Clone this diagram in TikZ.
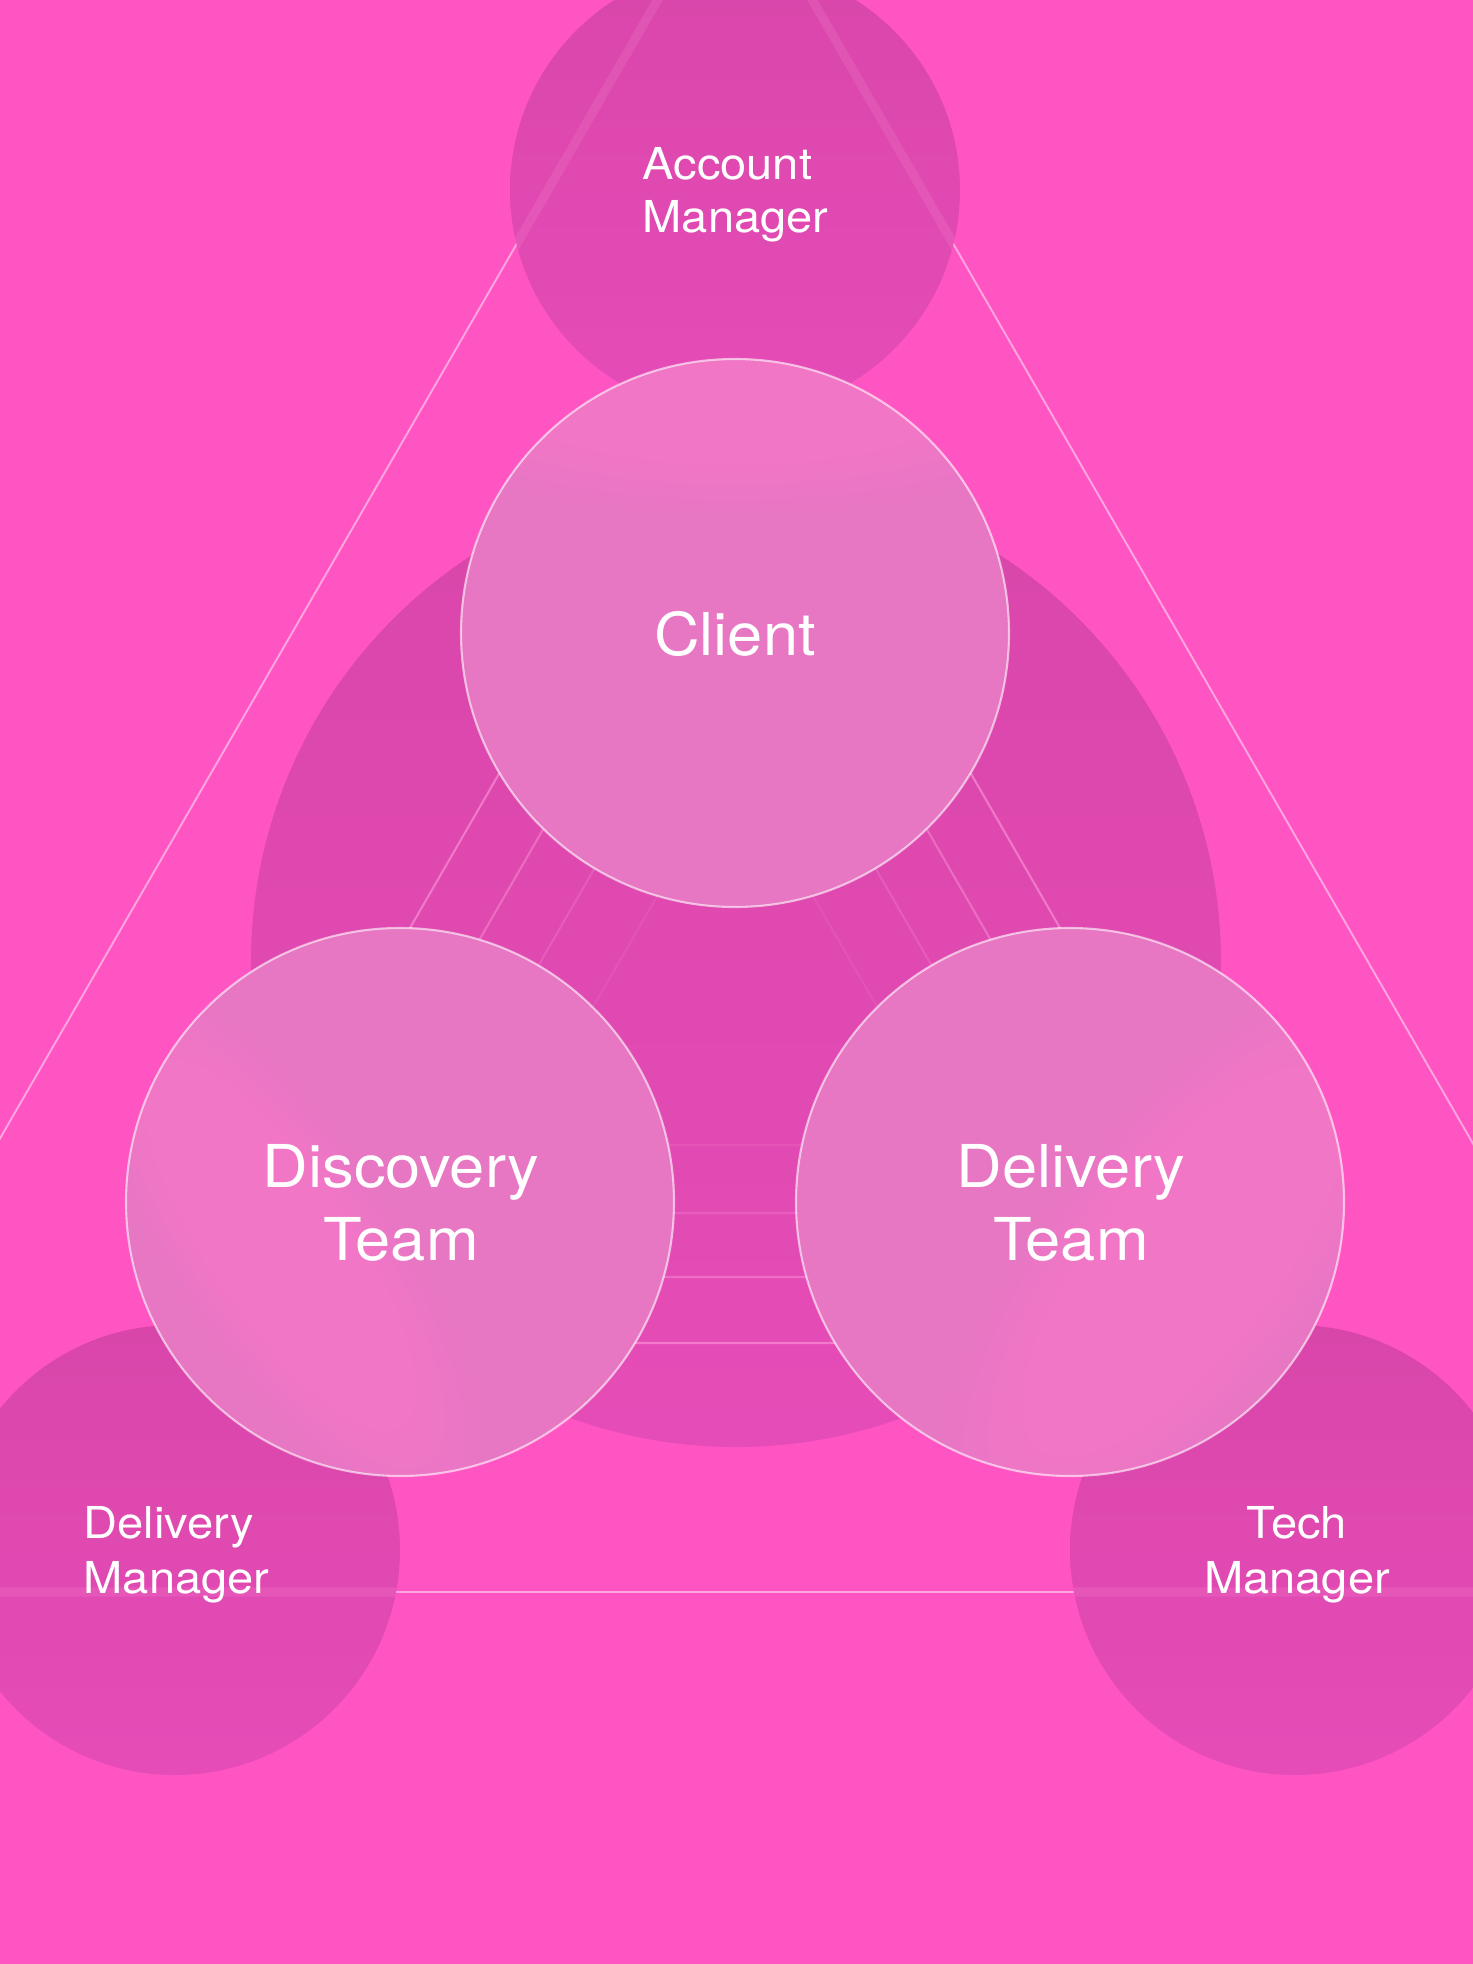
\documentclass[tikz,border=0pt]{standalone}
\usepackage{fontspec}
\setmainfont{TeX Gyre Heros}[FakeStretch=1.07]
\definecolor{bg}{HTML}{FF55C3}
\definecolor{mgrtop}{HTML}{D946AA}
\definecolor{mgrbot}{HTML}{E64CB7}
\definecolor{team}{HTML}{E776C3}
\definecolor{teamhi}{HTML}{FF80D3}
\definecolor{triline}{HTML}{FFA6E0}
\definecolor{innerline}{HTML}{FFA0DC}
\begin{document}
\begin{tikzpicture}[x=0.01cm,y=-0.01cm,
  mgrfill/.style={top color=mgrtop,bottom color=mgrbot},
  bigline/.style={draw=triline,line width=0.55pt},
  bandline/.style={draw=triline,line width=2.6pt,draw opacity=0.14},
  nestline/.style={draw=innerline,line width=0.6pt},
  teamedge/.style={draw=white,draw opacity=0.6,line width=0.6pt},
  glow/.style={fill=teamhi,fill opacity=0.07},
  teamtxt/.style={text=white,inner sep=0pt,anchor=base,font=\fontsize{16.8}{20}\selectfont},
  mgrtxt/.style={text=white,inner sep=0pt,font=\fontsize{12.5}{15}\selectfont}]
\useasboundingbox (0,0) rectangle (1473,1964);
\begin{scope}
\clip (0,0) rectangle (1473,1964);
\fill[bg] (0,0) rectangle (1473,1964);
% outer triangle
\coordinate (apex) at (735,-134);
\coordinate (bl) at (-262,1592);
\coordinate (br) at (1732,1592);
\draw[bigline] (bl) -- (apex) -- (br) -- cycle;
% manager circles
\coordinate (am) at (735,190);
\coordinate (dm) at (175,1550);
\coordinate (tm) at (1295,1550);
\foreach \c in {am,dm,tm}{
  \shade[mgrfill] (\c) circle[radius=225];
  \begin{scope}
    \clip (\c) circle[radius=225];
    \draw[bandline] (bl) -- (apex) -- (br) -- cycle;
  \end{scope}
}
% hub circle with nested triangles
\coordinate (hub) at (736,962);
\shade[mgrfill] (hub) circle[radius=485];
\begin{scope}
  \clip (hub) circle[radius=485];
  \foreach \r/\o in {326/0.55,260/0.42,196/0.22,128/0.12}{
    \draw[nestline,draw opacity=\o] (735,{1017-2*\r}) -- ({735-1.732*\r},{1017+\r}) -- ({735+1.732*\r},{1017+\r}) -- cycle;
  }
\end{scope}
% team circles
\coordinate (cl) at (735,633);
\coordinate (dt) at (400,1202);
\coordinate (vt) at (1070,1202);
\fill[team] (cl) circle[radius=274];
\begin{scope}
  \clip (cl) circle[radius=274];
  \foreach \k in {1,...,28}{\fill[glow] (735,370) ellipse[x radius={14*\k},y radius={5*\k}];}
  \foreach \k in {1,...,12}{\fill[glow,fill opacity=0.025] (890,870) circle[radius={14*\k}];}
\end{scope}
\draw[teamedge] (cl) circle[radius=274];
\fill[team] (dt) circle[radius=274];
\begin{scope}
  \clip (dt) circle[radius=274];
  \foreach \k in {1,...,28}{\fill[glow,rotate around={-56:(280,1245)}] (280,1245) ellipse[x radius={11.5*\k},y radius={3.8*\k}];}
  \foreach \k in {1,...,12}{\fill[glow,fill opacity=0.025] (530,1400) circle[radius={12*\k}];}
\end{scope}
\draw[teamedge] (dt) circle[radius=274];
\fill[team] (vt) circle[radius=274];
\begin{scope}
  \clip (vt) circle[radius=274];
  \foreach \k in {1,...,28}{\fill[glow,rotate around={52:(1185,1262)}] (1185,1262) ellipse[x radius={12.5*\k},y radius={4.8*\k}];}
\end{scope}
\draw[teamedge] (vt) circle[radius=274];
% texts
\node[teamtxt] (clienttxt) at (735,655) {Client};
\node[teamtxt] (disc1) at (401,1187) {Discovery};
\node[teamtxt] (disc2) at (401,1260) {Team};
\node[teamtxt] (deliv1) at (1071,1187) {Delivery};
\node[teamtxt] (deliv2) at (1071,1260) {Team};
\node[mgrtxt,anchor=base west] (acc1) at (642,180) {Account};
\node[mgrtxt,anchor=base west] (acc2) at (642,233) {Manager};
\node[mgrtxt,anchor=base west] (dm1) at (83,1538) {Delivery};
\node[mgrtxt,anchor=base west] (dm2) at (83,1593) {Manager};
\node[mgrtxt,anchor=base] (tm1) at (1297,1538) {Tech};
\node[mgrtxt,anchor=base] (tm2) at (1297,1593) {Manager};
\end{scope}
\end{tikzpicture}
\end{document}
